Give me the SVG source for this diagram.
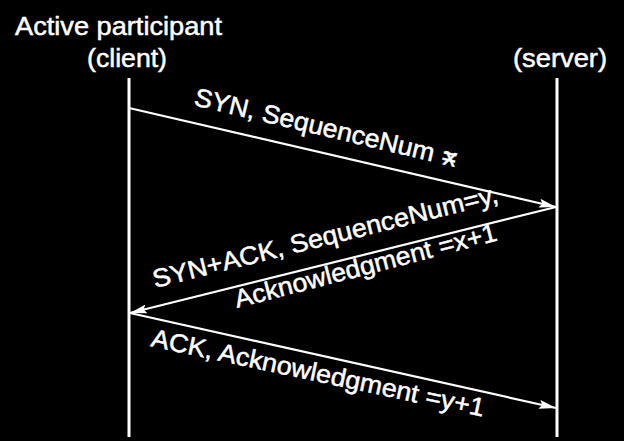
<svg xmlns="http://www.w3.org/2000/svg" width="624" height="441" viewBox="0 0 624 441">
<defs>
<style>
text{font-family:"Liberation Sans",Arial,sans-serif;fill:#fff;stroke:#fff;stroke-width:0.5}
.h{font-size:26px}
.l{font-size:25.5px}
.ln{stroke:#fff;stroke-width:3;fill:none}
.ar{stroke:#fff;stroke-width:2.2;fill:none;marker-end:url(#ah)}
</style>
<marker id="ah" viewBox="0 0 17 9" refX="17" refY="4.5" markerWidth="17" markerHeight="9" markerUnits="userSpaceOnUse" orient="auto">
<path d="M0,0 L17,4.5 L0,9 L3,4.5 Z" fill="#fff"/>
</marker>
</defs>
<rect width="624" height="441" fill="#000"/>
<g id="client">
<text class="h" x="15" y="35" textLength="207" lengthAdjust="spacingAndGlyphs">Active participant</text>
<text class="h" x="87" y="67" textLength="80" lengthAdjust="spacingAndGlyphs">(client)</text>
<line class="ln" x1="129" y1="78" x2="129" y2="437"/>
</g>
<g id="server">
<text class="h" x="513" y="67" textLength="94" lengthAdjust="spacingAndGlyphs">(server)</text>
<line class="ln" x1="557" y1="78" x2="557" y2="437"/>
</g>
<g id="connectors">
<line class="ar" x1="129" y1="108" x2="556" y2="207"/>
<line class="ar" x1="556" y1="207" x2="130" y2="313"/>
<line class="ar" x1="130" y1="313" x2="556" y2="408"/>
<g transform="translate(193,105) rotate(13.3)">
<text class="l" textLength="246" lengthAdjust="spacingAndGlyphs">SYN, SequenceNum</text>
<text class="l" x="254">=</text>
<text class="l" x="256">x</text>
</g>
<text class="l" transform="translate(155,288) rotate(-14)" textLength="355" lengthAdjust="spacingAndGlyphs">SYN+ACK, SequenceNum=y,</text>
<text class="l" transform="translate(237,308) rotate(-14.5)" textLength="270" lengthAdjust="spacingAndGlyphs">Acknowledgment =x+1</text>
<text class="l" transform="translate(150,346) rotate(12)" textLength="340" lengthAdjust="spacingAndGlyphs">ACK, Acknowledgment =y+1</text>
</g>
</svg>
